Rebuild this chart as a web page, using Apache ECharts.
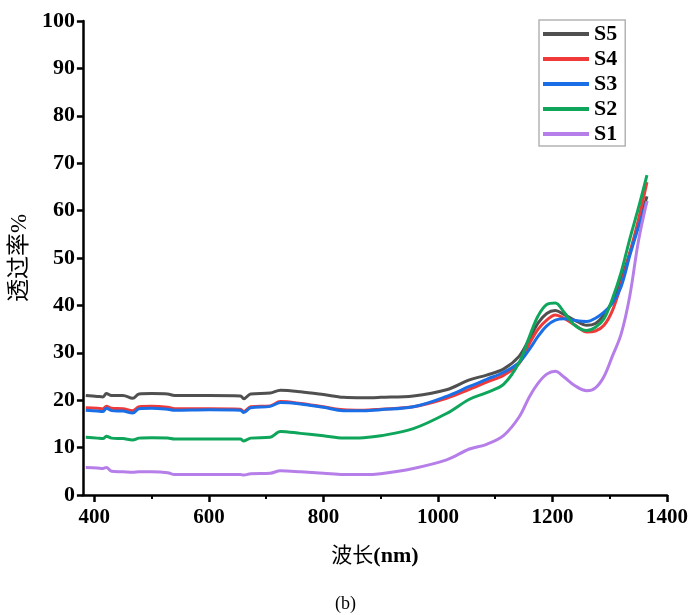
<!DOCTYPE html>
<html>
<head>
<meta charset="utf-8">
<script src="https://cdn.jsdelivr.net/npm/echarts@6/dist/echarts.min.js"></script>
<style>
  html, body { margin: 0; padding: 0; background: #fff; }
  #chart { width: 691px; height: 615px; }
</style>
</head>
<body>
<div id="chart"></div>
<script>
// wavelength (nm) shared by all curves
const wavelength = [385, 405, 415, 421, 430, 450, 467, 478, 500, 528, 540, 600, 655, 661, 673, 707, 725, 760, 800, 835, 870, 900, 957, 1015, 1055, 1085, 1115, 1142, 1160, 1175, 1190, 1205, 1220, 1240, 1260, 1275, 1290, 1305, 1320, 1335, 1350, 1365];

const s5 = [21.0, 20.8, 20.7, 21.4, 21.0, 21.0, 20.4, 21.3, 21.4, 21.3, 21.0, 21.0, 20.9, 20.3, 21.3, 21.5, 22.1, 21.8, 21.2, 20.6, 20.5, 20.6, 20.9, 22.2, 24.3, 25.3, 26.6, 29.3, 33.0, 36.3, 38.3, 38.9, 38.1, 36.8, 35.8, 36.2, 38.0, 41.0, 45.5, 51.0, 57.0, 63.0];
const s4 = [18.4, 18.3, 18.2, 18.7, 18.3, 18.2, 17.8, 18.6, 18.7, 18.5, 18.2, 18.2, 18.1, 17.6, 18.6, 18.8, 19.7, 19.3, 18.6, 18.0, 17.9, 18.1, 18.6, 20.4, 22.3, 23.8, 25.3, 27.8, 32.0, 35.0, 36.9, 38.0, 37.3, 35.8, 34.4, 34.6, 35.8, 39.0, 44.5, 51.0, 58.0, 66.0];
const s3 = [17.9, 17.7, 17.6, 18.3, 17.8, 17.7, 17.3, 18.2, 18.3, 18.1, 17.9, 18.0, 17.9, 17.4, 18.4, 18.7, 19.5, 19.2, 18.5, 17.8, 17.8, 18.0, 18.6, 20.8, 22.9, 24.4, 25.9, 28.0, 30.8, 33.5, 35.7, 36.9, 37.2, 36.8, 36.6, 37.3, 38.6, 40.5, 44.0, 50.5, 56.5, 62.0];
const s2 = [12.2, 12.0, 11.9, 12.4, 12.0, 11.9, 11.6, 12.0, 12.1, 12.0, 11.8, 11.8, 11.8, 11.4, 12.0, 12.2, 13.4, 13.0, 12.5, 12.0, 12.1, 12.5, 14.0, 17.2, 20.2, 21.6, 23.4, 28.0, 33.5, 37.8, 40.2, 40.5, 38.6, 35.7, 34.7, 35.4, 37.2, 41.5, 47.0, 54.0, 60.5, 67.5];
const s1 = [5.8, 5.7, 5.6, 5.8, 5.0, 4.9, 4.8, 4.9, 4.9, 4.7, 4.3, 4.3, 4.3, 4.2, 4.5, 4.6, 5.1, 4.9, 4.6, 4.3, 4.3, 4.5, 5.6, 7.4, 9.7, 10.7, 12.6, 16.5, 20.8, 23.6, 25.5, 26.1, 24.9, 23.0, 22.0, 22.6, 25.0, 29.4, 34.0, 42.0, 53.5, 62.0];

const seriesNames = ['S5', 'S4', 'S3', 'S2', 'S1'];
const seriesColors = ['#505050', '#f03a3a', '#1a6fe6', '#0fa65c', '#b67ee8'];
const seriesValues = [s5, s4, s3, s2, s1];

const xMajorTicks = [400, 600, 800, 1000, 1200, 1400];
const xMinorTicks = [500, 700, 900, 1100, 1300];

const serif = '"Liberation Serif", "Noto Sans CJK SC", serif';

const chart = echarts.init(document.getElementById('chart'));

const series = seriesNames.map(function (name, i) {
    return {
        name: name,
        type: 'line',
        xAxisIndex: 0,
        showSymbol: false,
        smooth: 0.35,
        lineStyle: { width: 3, color: seriesColors[i] },
        itemStyle: { color: seriesColors[i] },
        data: wavelength.map(function (w, k) { return [w, seriesValues[i][k]]; })
    };
});

chart.setOption({
    animation: false,
    title: {
        text: '(b)',
        left: 'center',
        top: 590,
        textStyle: { fontFamily: serif, fontWeight: 'normal', fontSize: 18, color: '#000' }
    },
    legend: {
        orient: 'vertical',
        left: 539,
        top: 20,
        data: seriesNames,
        icon: 'rect',
        itemWidth: 46,
        itemHeight: 4,
        itemGap: 3,
        padding: [3, 8, 1, 4],
        borderColor: '#b4b4b4',
        borderWidth: 1.5,
        textStyle: { fontFamily: serif, fontWeight: 'bold', fontSize: 22, color: '#000' }
    },
    grid: { left: 81, right: 23, top: 21, bottom: 120, containLabel: false },
    xAxis: [
        {
            type: 'value',
            min: 380,
            max: 1400,
            position: 'bottom',
            name: '{a|波长}{b|(nm)}',
            nameLocation: 'middle',
            nameGap: 50,
            nameTextStyle: {
                rich: {
                    a: { fontFamily: serif, fontSize: 21, color: '#000' },
                    b: { fontFamily: serif, fontWeight: 'bold', fontSize: 22, color: '#000' }
                }
            },
            axisLine: { lineStyle: { color: '#000', width: 2.5 } },
            axisTick: { show: true, length: 7, lineStyle: { width: 2.5, color: '#000' }, customValues: xMajorTicks },
            axisLabel: {
                customValues: xMajorTicks,
                formatter: function (v) { return String(v); },
                margin: 12, fontFamily: serif, fontWeight: 'bold', fontSize: 21, color: '#000'
            },
            splitLine: { show: false }
        },
        {
            type: 'value',
            min: 380,
            max: 1400,
            position: 'bottom',
            axisLine: { show: false },
            axisTick: { show: true, length: 4, lineStyle: { width: 2, color: '#000' }, customValues: xMinorTicks },
            axisLabel: { show: false },
            splitLine: { show: false }
        }
    ],
    yAxis: {
        type: 'value',
        min: 0,
        max: 100,
        interval: 10,
        name: '透过率%',
        nameLocation: 'middle',
        nameGap: 44,
        nameTextStyle: { fontFamily: serif, fontSize: 23, color: '#000' },
        axisLine: { show: true, lineStyle: { color: '#000', width: 2.5 } },
        axisTick: { show: true, length: 6, lineStyle: { width: 2.5, color: '#000' } },
        axisLabel: { margin: 8, fontFamily: serif, fontWeight: 'bold', fontSize: 22, color: '#000' },
        splitLine: { show: false }
    },
    series: series
});
</script>
</body>
</html>
